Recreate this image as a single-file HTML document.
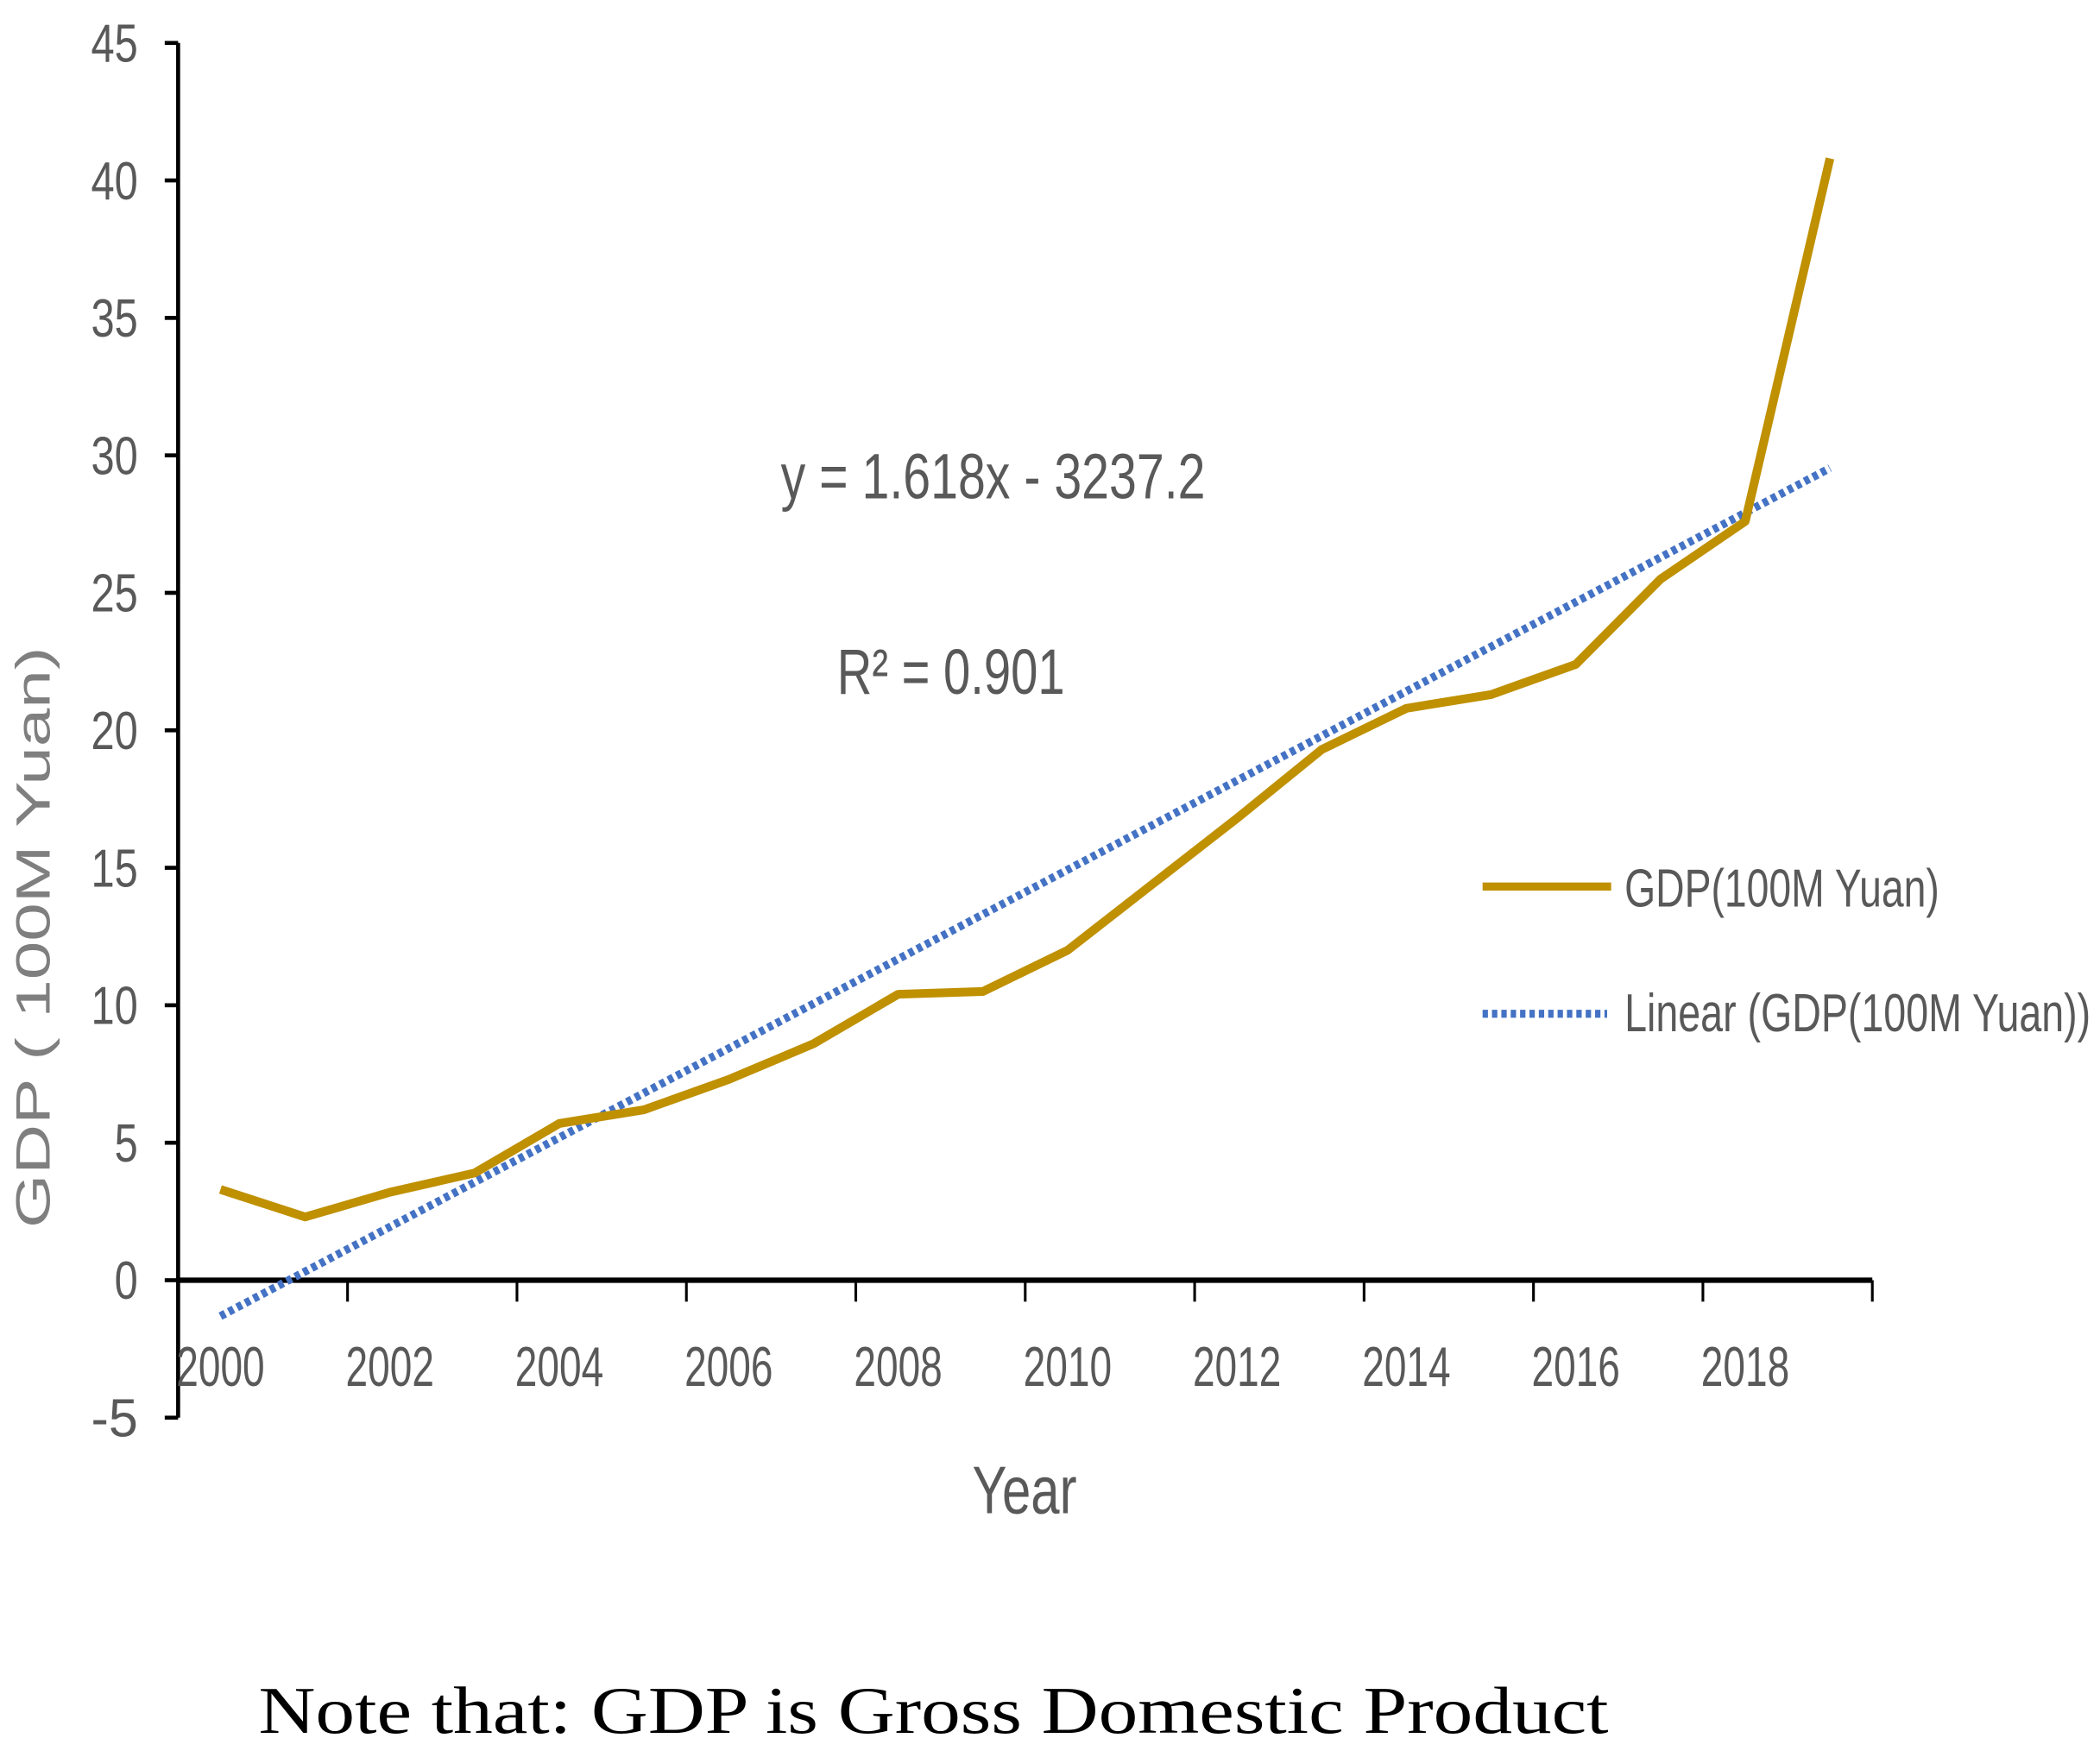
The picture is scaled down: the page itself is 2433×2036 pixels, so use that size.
<!DOCTYPE html>
<html><head><meta charset="utf-8"><style>html,body{margin:0;padding:0;background:#fff}svg{display:block}</style></head>
<body>
<svg id="chart" width="2433" height="2036" viewBox="0 0 1568 1312" xmlns="http://www.w3.org/2000/svg" font-family="'Liberation Sans Narrow','Liberation Sans',sans-serif">
<g id="axes"></g>
<g id="marks"></g>
<text x="583" y="372" font-size="48" fill="#595959" textLength="317" lengthAdjust="spacingAndGlyphs">y = 1.618x - 3237.2</text>
<text x="625" y="518" font-size="48" fill="#595959" textLength="170" lengthAdjust="spacingAndGlyphs">R² = 0.901</text>
<text transform="translate(37,700) rotate(-90)" text-anchor="middle" font-family="'Liberation Sans',sans-serif" font-size="36" fill="#7f7f7f" textLength="434" lengthAdjust="spacingAndGlyphs">GDP ( 100M Yuan)</text>
<text x="765" y="1130" text-anchor="middle" font-size="50" fill="#595959" textLength="78" lengthAdjust="spacingAndGlyphs">Year</text>
<g>
<line x1="1107" y1="662" x2="1203" y2="662" stroke="#BF9000" stroke-width="6"/>
<text x="1213" y="677" font-size="40" fill="#595959" textLength="235" lengthAdjust="spacingAndGlyphs">GDP(100M Yuan)</text>
<line x1="1107" y1="757" x2="1200" y2="757" stroke="#4472C4" stroke-width="6" stroke-dasharray="4,3"/>
<text x="1213" y="770" font-size="40" fill="#595959" textLength="348" lengthAdjust="spacingAndGlyphs">Linear (GDP(100M Yuan))</text>
</g>
<text x="193" y="1294" font-family="'Liberation Serif',serif" font-size="50" fill="#000" textLength="1008" lengthAdjust="spacingAndGlyphs">Note that: GDP is Gross Domestic Product</text>
</svg>
<script>
const years = [2000,2001,2002,2003,2004,2005,2006,2007,2008,2009,2010,2011,2012,2013,2014,2015,2016,2017,2018,2019];
const gdp = [3.3,2.3,3.2,3.9,5.7,6.2,7.3,8.6,10.4,10.5,12.0,14.4,16.8,19.3,20.8,21.3,22.4,25.5,27.6,40.8];
const yTicks = [-5,0,5,10,15,20,25,30,35,40,45];
const xLabels = ['2000','2002','2004','2006','2008','2010','2012','2014','2016','2018'];

const NS='http://www.w3.org/2000/svg';
const X0=133, X1=1398, Y45=32, Y0=956;
const step=(X1-X0)/years.length;
function xs(i){return X0+step*(i+0.5);}
function ys(v){return Y0-(v)*(Y0-Y45)/45;}
function mk(tag,attrs,parent){const e=document.createElementNS(NS,tag);for(const k in attrs)e.setAttribute(k,attrs[k]);parent.appendChild(e);return e;}
const axes=document.getElementById('axes'), marks=document.getElementById('marks');

let e=mk('line',{x1:X0,y1:ys(45),x2:X0,y2:ys(-5),stroke:'#000','stroke-width':3},axes);


e=mk('line',{x1:X0,y1:Y0,x2:X1,y2:Y0,stroke:'#000','stroke-width':4},axes);


yTicks.forEach(v=>{
  const t=mk('line',{x1:X0-10,y1:ys(v),x2:X0,y2:ys(v),stroke:'#000','stroke-width':3},axes);
  
  
  const s=String(v);
  const l=mk('text',{x:103,y:ys(v)+14,'text-anchor':'end','font-size':40,fill:'#595959',textLength:s.length*17.5,lengthAdjust:'spacingAndGlyphs'},axes);
  l.textContent=s;
  
  
});
for(let i=0;i<=years.length;i++){
  if(i%2===0){
    const t=mk('line',{x1:X0+step*i,y1:Y0,x2:X0+step*i,y2:Y0+16,stroke:'#000','stroke-width':2},axes);
    
    
  }
}
xLabels.forEach((s,k)=>{
  const i=years.indexOf(+s);
  const l=mk('text',{x:xs(i),y:1035,'text-anchor':'middle','font-size':42,fill:'#595959',textLength:66,lengthAdjust:'spacingAndGlyphs'},axes);
  l.textContent=s;
  
  
});
const n=years.length;let sx=0,sy=0,sxx=0,sxy=0;
years.forEach((x,i)=>{sx+=x;sy+=gdp[i];sxx+=x*x;sxy+=x*gdp[i];});
const b=(n*sxy-sx*sy)/(n*sxx-sx*sx), a=(sy-b*sx)/n;
const tr=mk('line',{x1:xs(0),y1:ys(a+b*years[0]),x2:xs(n-1),y2:ys(a+b*years[n-1]),stroke:'#4472C4','stroke-width':6,'stroke-dasharray':'4,3'},marks);


const pts=gdp.map((v,i)=>xs(i)+','+ys(v)).join(' ');
const pl=mk('polyline',{points:pts,fill:'none',stroke:'#BF9000','stroke-width':6.5,'stroke-linejoin':'round'},marks);


</script>
</body></html>
